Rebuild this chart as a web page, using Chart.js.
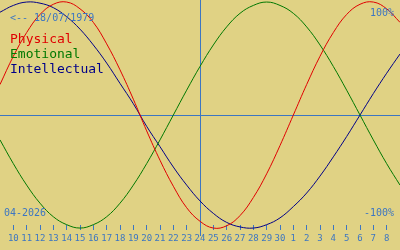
<!DOCTYPE html>
<html>
<head>
<meta charset="utf-8">
<script src="https://cdn.jsdelivr.net/npm/chart.js@4.4.1/dist/chart.umd.min.js"></script>
<style>
  html, body { margin: 0; padding: 0; background: #e0d284; }
  canvas { display: block; }
</style>
</head>
<body>
<canvas id="bio" width="400" height="250"></canvas>
<script>
// days shown on the axis (09/04/2026 .. 09/05/2026)
const days = ['9', '10', '11', '12', '13', '14', '15', '16', '17', '18', '19', '20', '21', '22', '23', '24',
              '25', '26', '27', '28', '29', '30', '1', '2', '3', '4', '5', '6', '7', '8', '9'];

// cycle values in percent
const physical = [27, 52, 73, 89, 98, 100, 94, 82, 63, 40, 14, -14, -40, -63, -82, -94,
                  -100, -98, -89, -73, -52, -27, 0, 27, 52, 73, 89, 98, 100, 94, 82];
const emotional = [-22, -43, -62, -78, -90, -97, -100, -97, -90, -78, -62, -43, -22, 0, 22, 43,
                   62, 78, 90, 97, 100, 97, 90, 78, 62, 43, 22, 0, -22, -43, -62];
const intellectual = [91, 97, 100, 99, 95, 87, 76, 62, 46, 28, 10, -10, -28, -46, -62, -76,
                      -87, -95, -99, -100, -97, -91, -81, -69, -54, -37, -19, 0, 19, 37, 54];

const todayIndex = 15;
const birthDate = '18/07/1979';
const monthLabel = '04-2026';

const blue = '#3c76c2';

// draws the day marker, the zero line and the texts
const overlay = {
    id: 'overlay',
    beforeDatasetsDraw(chart) {
        const ctx = chart.ctx;
        const area = chart.chartArea;
        const x = chart.scales.x.getPixelForValue(todayIndex);
        const y0 = chart.scales.y.getPixelForValue(0);
        ctx.save();
        ctx.strokeStyle = blue;
        ctx.lineWidth = 1;
        ctx.beginPath();
        ctx.moveTo(area.left, Math.round(y0) + 0.5);
        ctx.lineTo(area.right, Math.round(y0) + 0.5);
        ctx.moveTo(Math.round(x) + 0.5, area.top);
        ctx.lineTo(Math.round(x) + 0.5, area.bottom + 11);
        ctx.stroke();
        ctx.restore();
    },
    afterDraw(chart) {
        const ctx = chart.ctx;
        ctx.save();
        ctx.textBaseline = 'alphabetic';
        ctx.font = '10px "DejaVu Sans Mono"';
        ctx.fillStyle = blue;
        ctx.textAlign = 'left';
        ctx.fillText('<-- ' + birthDate, 10, 21);
        ctx.fillText(monthLabel, 4, 216);
        ctx.textAlign = 'right';
        ctx.fillText('100%', 394, 16);
        ctx.fillText('-100%', 394, 216);

        ctx.textAlign = 'left';
        ctx.font = '13px "DejaVu Sans Mono"';
        chart.data.datasets.forEach((ds, i) => {
            ctx.fillStyle = ds.borderColor;
            ctx.fillText(ds.label, 10, 43 + i * 15);
        });
        ctx.restore();
    }
};

new Chart(document.getElementById('bio'), {
    type: 'line',
    data: {
        labels: days,
        datasets: [
            { label: 'Physical', data: physical, borderColor: '#e00000' },
            { label: 'Emotional', data: emotional, borderColor: '#007800' },
            { label: 'Intellectual', data: intellectual, borderColor: '#000088' }
        ]
    },
    options: {
        responsive: false,
        animation: false,
        layout: { padding: 0, autoPadding: false },
        elements: {
            line: { borderWidth: 1, tension: 0.4 },
            point: { radius: 0 }
        },
        datasets: { line: { clip: false } },
        plugins: {
            legend: { display: false },
            tooltip: { enabled: false }
        },
        scales: {
            x: {
                type: 'category',
                offset: false,
                border: { display: false },
                grid: {
                    drawOnChartArea: false,
                    drawTicks: true,
                    tickLength: 5,
                    tickColor: ctx => (ctx.index === 0 || ctx.index === days.length - 1) ? 'rgba(0,0,0,0)' : blue
                },
                ticks: {
                    autoSkip: false,
                    maxRotation: 0,
                    padding: 3,
                    color: blue,
                    font: { family: 'DejaVu Sans Mono', size: 9 },
                    callback: (v, i) => (i === 0 || i === days.length - 1) ? '' : days[i]
                },
                afterFit(scale) {
                    scale.height = 25;
                    scale.paddingLeft = 0;
                    scale.paddingRight = 0;
                }
            },
            y: {
                display: false,
                min: -97.3,
                max: 101.8
            }
        }
    },
    plugins: [overlay]
});
</script>
</body>
</html>
